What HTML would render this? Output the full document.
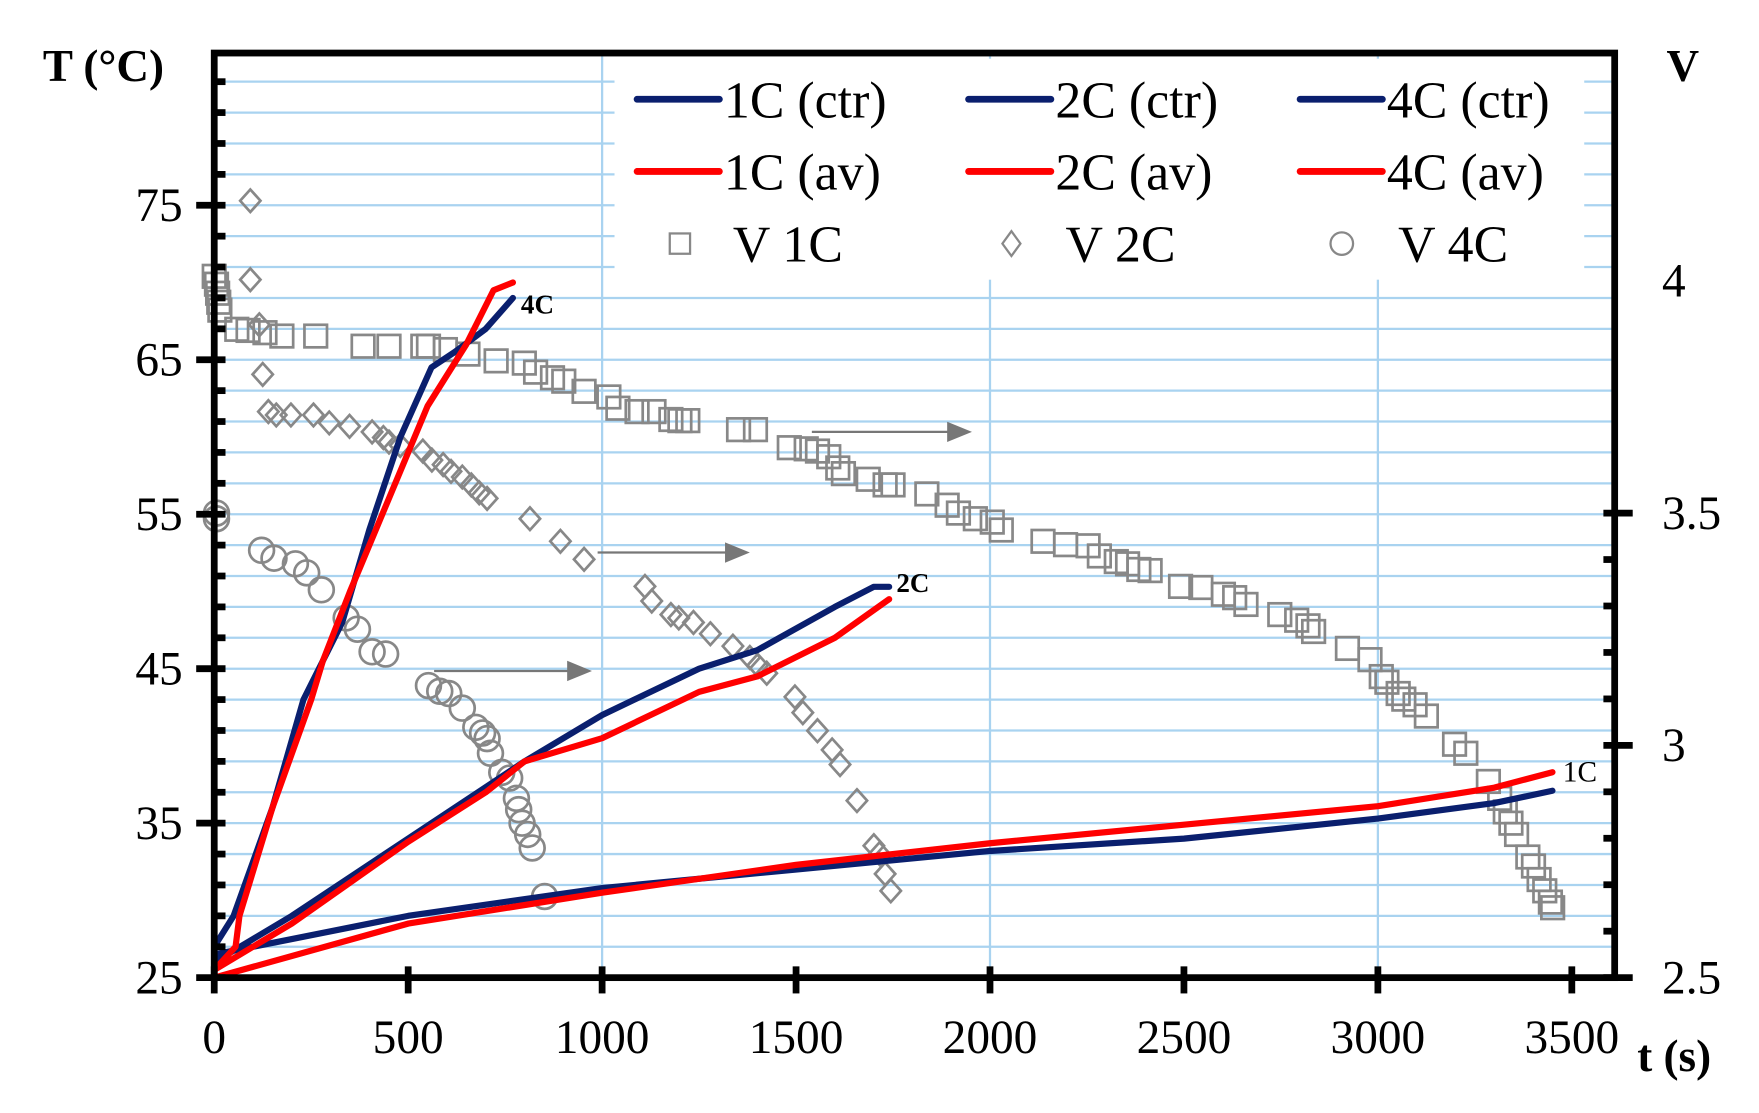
<!DOCTYPE html>
<html><head><meta charset="utf-8"><style>
html,body{margin:0;padding:0;background:#fff;}
svg{display:block;}
text{font-family:"Liberation Serif",serif;fill:#000;}
</style></head><body>
<svg id="s" width="1759" height="1113" viewBox="0 0 1560 987" xmlns="http://www.w3.org/2000/svg">
<g id="grid"></g>
<rect x="545" y="52" width="860" height="196" fill="#fff"/>
<g id="data"></g>
<g id="axes"></g>
<g id="leg">
 <line x1="565" y1="88" x2="638" y2="88" stroke="#0a1f6e" stroke-width="6" stroke-linecap="round"/>
 <line x1="859" y1="88" x2="932" y2="88" stroke="#0a1f6e" stroke-width="6" stroke-linecap="round"/>
 <line x1="1153" y1="88" x2="1226" y2="88" stroke="#0a1f6e" stroke-width="6" stroke-linecap="round"/>
 <line x1="565" y1="152" x2="638" y2="152" stroke="#f00" stroke-width="6" stroke-linecap="round"/>
 <line x1="859" y1="152" x2="932" y2="152" stroke="#f00" stroke-width="6" stroke-linecap="round"/>
 <line x1="1153" y1="152" x2="1226" y2="152" stroke="#f00" stroke-width="6" stroke-linecap="round"/>
 <text x="642" y="104" font-size="46">1C (ctr)</text>
 <text x="936" y="104" font-size="46">2C (ctr)</text>
 <text x="1230" y="104" font-size="46">4C (ctr)</text>
 <text x="642" y="168" font-size="46">1C (av)</text>
 <text x="936" y="168" font-size="46">2C (av)</text>
 <text x="1230" y="168" font-size="46">4C (av)</text>
 <rect x="594" y="207" width="18" height="18" fill="none" stroke="#888" stroke-width="2"/>
 <path d="M897 205 L905 216 L897 227 L889 216Z" fill="none" stroke="#888" stroke-width="2"/>
 <circle cx="1190" cy="216" r="10" fill="none" stroke="#888" stroke-width="2"/>
 <text x="650" y="232" font-size="46">V 1C</text>
 <text x="945" y="232" font-size="46">V 2C</text>
 <text x="1240" y="232" font-size="46">V 4C</text>
</g>
<text x="38" y="72" font-size="40" font-weight="bold">T (°C)</text>
<text x="1478" y="72" font-size="40" font-weight="bold">V</text>
<text x="1452" y="950" font-size="40" font-weight="bold">t (s)</text>
<text x="462" y="278" font-size="24" font-weight="bold">4C</text>
<text x="795" y="525" font-size="24" font-weight="bold">2C</text>
<text x="1386" y="693" font-size="26">1C</text>
</svg>
<script>
const NS="http://www.w3.org/2000/svg";
const L=190,R=1432,T=47,B=867;
const X=t=>190+t*0.344, Y=c=>867-(c-25)*13.7, YV=v=>867-(v-2.5)*412;
function el(p,tag,a){const e=document.createElementNS(NS,tag);for(const k in a)e.setAttribute(k,a[k]);p.appendChild(e);return e;}
const g=document.getElementById('grid'),d=document.getElementById('data'),ax=document.getElementById('axes');
for(let c=27;c<85;c+=2)el(g,'line',{x1:L,x2:R,y1:Y(c),y2:Y(c),stroke:'#a9d3f0','stroke-width':2});
for(const t of [1000,2000,3000])el(g,'line',{x1:X(t),x2:X(t),y1:T,y2:B,stroke:'#a9d3f0','stroke-width':2});
function line(pts,col){el(d,'polyline',{points:pts.map(p=>X(p[0])+','+Y(p[1])).join(' '),fill:'none',stroke:col,'stroke-width':5.5,'stroke-linejoin':'round','stroke-linecap':'round'});}
const sq=[[190,245],[192,252],[193,260],[194,268],[195,275],[210,292],[220,293],[235,295],[250,298],[280,298],[322,307],[345,307],[375,307],[380,307],[395,310],[415,314],[440,320],[465,322],[475,330],[490,335],[500,338],[518,347],[540,352],[548,362],[565,365],[580,365],[595,372],[603,373],[610,373],[655,381],[670,381],[700,397],[715,398],[725,400],[735,405],[743,415],[748,420],[770,425],[785,430],[792,430],[822,438],[840,448],[850,455],[865,460],[880,463],[888,470],[925,480],[945,483],[965,484],[975,493],[990,498],[1000,500],[1010,505],[1020,506],[1047,520],[1065,521],[1085,527],[1095,530],[1105,536],[1135,545],[1150,550],[1160,555],[1165,560],[1195,575],[1215,585],[1225,600],[1230,605],[1240,615],[1245,620],[1255,625],[1265,635],[1290,660],[1300,668],[1320,693],[1330,708],[1335,720],[1340,730],[1345,740],[1355,760],[1360,768],[1365,780],[1370,790],[1375,800],[1377,805]];
const di=[[222,178],[222,248],[230,288],[233,332],[238,365],[245,368],[258,368],[278,368],[292,375],[310,378],[330,383],[340,388],[345,392],[355,395],[375,400],[383,408],[393,412],[400,418],[410,423],[418,430],[425,437],[432,442],[470,460],[497,480],[518,496],[572,520],[578,533],[595,545],[602,548],[615,552],[630,562],[650,573],[665,583],[672,590],[680,597],[705,618],[712,632],[725,648],[738,665],[745,678],[760,710],[775,750],[780,757],[785,775],[790,790]];
const ci=[[192,455],[192,460],[232,488],[243,495],[262,500],[272,508],[285,523],[307,548],[317,558],[330,578],[342,580],[380,608],[390,613],[398,615],[410,628],[422,645],[428,650],[432,655],[435,668],[445,685],[452,690],[458,708],[460,718],[463,730],[468,740],[472,752],[483,795]];
const ms={fill:'none',stroke:'#888','stroke-width':2.4};
sq.forEach(p=>el(d,'rect',Object.assign({x:p[0]-10,y:p[1]-10,width:20,height:20},ms)));
di.forEach(p=>el(d,'path',Object.assign({d:`M${p[0]} ${p[1]-10} L${p[0]+9} ${p[1]} L${p[0]} ${p[1]+10} L${p[0]-9} ${p[1]}Z`},ms)));
ci.forEach(p=>el(d,'circle',Object.assign({cx:p[0],cy:p[1],r:11},ms)));
[[385,595,525],[530,490,665],[720,383,862]].forEach(a=>{el(d,'line',{x1:a[0],x2:a[2]-18,y1:a[1],y2:a[1],stroke:'#777','stroke-width':2});el(d,'path',{d:`M${a[2]} ${a[1]} L${a[2]-22} ${a[1]-9} L${a[2]-22} ${a[1]+9}Z`,fill:'#777'});});
line([[0,26.5],[200,27.5],[500,29],[1000,30.8],[1500,32],[2000,33.2],[2500,34],[3000,35.3],[3300,36.3],[3450,37.1]],'#0a1f6e');
line([[0,25],[500,28.5],[1000,30.5],[1500,32.3],[2000,33.7],[2500,34.9],[3000,36.1],[3300,37.3],[3450,38.3]],'#f00');
line([[0,26],[200,29],[500,34],[800,39],[1000,42],[1250,45],[1400,46.2],[1600,49],[1700,50.3],[1740,50.3]],'#0a1f6e');
line([[0,25.5],[200,28.5],[500,33.8],[700,37],[800,39],[1000,40.5],[1250,43.5],[1400,44.5],[1600,47],[1740,49.5]],'#f00');
line([[0,27],[50,29],[150,36],[230,43],[260,44.5],[330,48],[400,54],[480,60],[560,64.5],[620,65.5],[700,67],[770,69]],'#0a1f6e');
line([[0,25.5],[55,27],[65,29],[150,36],[250,43],[280,45.5],[350,50],[450,56],[550,62],[650,66],[720,69.5],[770,70]],'#f00');
const A={stroke:'#000','stroke-width':6};
el(ax,'rect',{x:L,y:T,width:R-L,height:B-T,fill:'none',stroke:'#000','stroke-width':6});
for(let c=25;c<=83;c+=2){const y=Y(c);if((c-25)%10==0)el(ax,'line',Object.assign({x1:L-16,x2:L+10,y1:y,y2:y},A));else el(ax,'line',Object.assign({x1:L,x2:L+10,y1:y,y2:y},A));}
for(let c=25;c<=75;c+=10)el(ax,'text',{x:162,y:Y(c)+14,'font-size':42,'text-anchor':'end'}).textContent=c;
for(let t=0;t<=3500;t+=500){el(ax,'line',Object.assign({x1:X(t),x2:X(t),y1:B-10,y2:B+14},A));el(ax,'text',{x:X(t),y:934,'font-size':42,'text-anchor':'middle'}).textContent=t;}
for(let i=0;i<=10;i++){const v=2.5+i*0.1,y=YV(v);if(i%5==0)el(ax,'line',Object.assign({x1:R-10,x2:R+16,y1:y,y2:y},A));else el(ax,'line',Object.assign({x1:R-10,x2:R,y1:y,y2:y},A));}
[['2.5',2.5],['3',3],['3.5',3.5],['4',4]].forEach(v=>el(ax,'text',{x:1474,y:YV(v[1])+14,'font-size':42}).textContent=v[0]);
</script>
</body></html>
